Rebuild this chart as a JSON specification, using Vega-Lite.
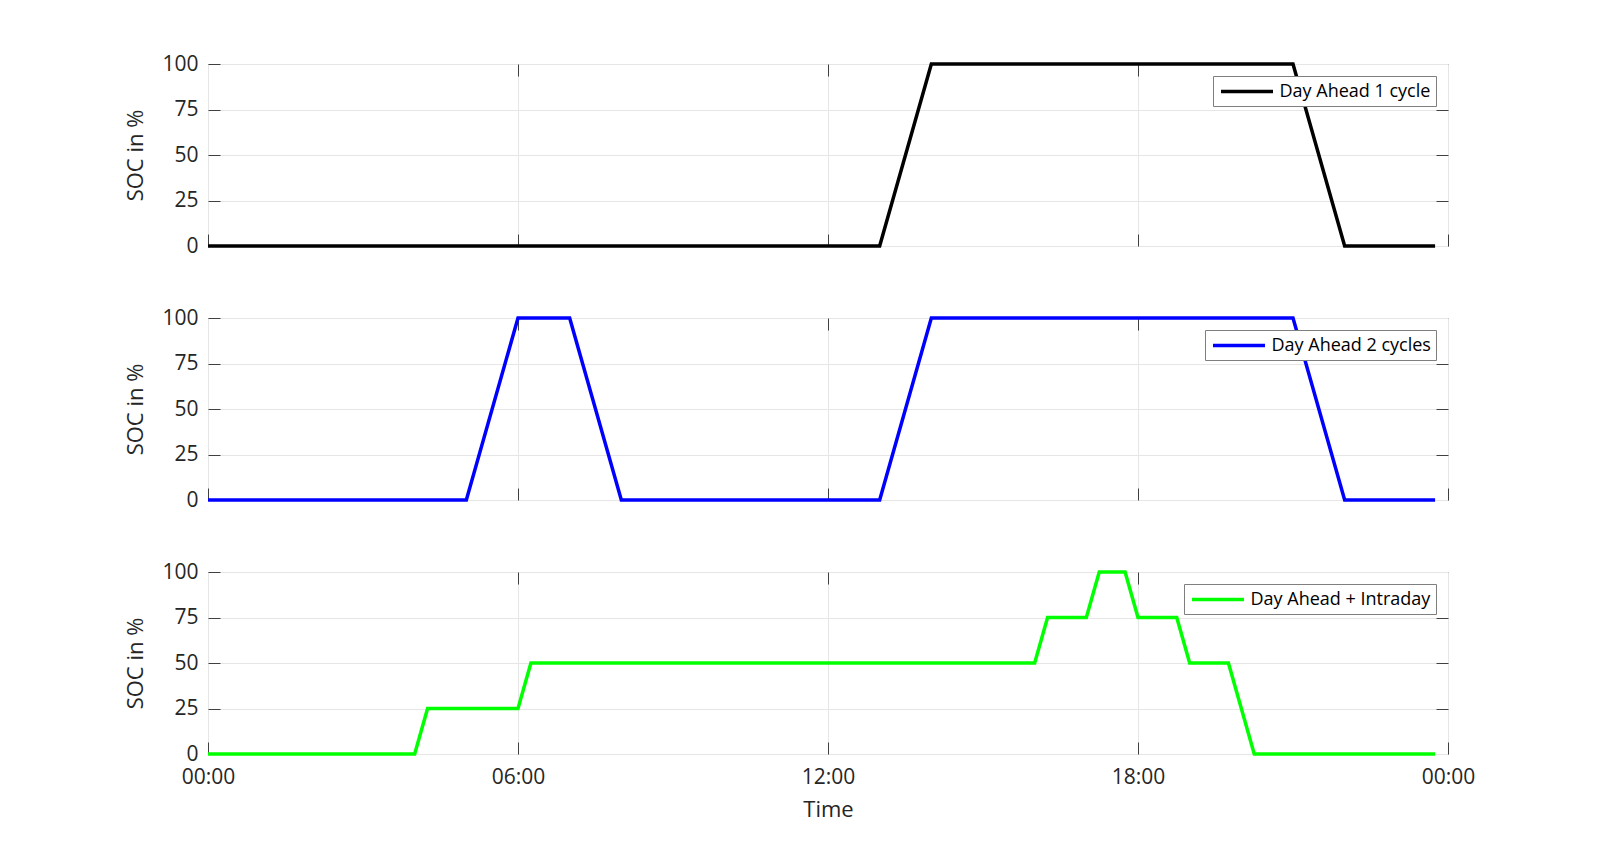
{
  "$schema": "https://vega.github.io/schema/vega-lite/v6.json",
  "background": "white",
  "padding": {"left": 124, "top": 52, "right": 150, "bottom": 20},
  "bounds": "flush",
  "spacing": 72,
  "config": {
    "font": "Open Sans",
    "view": {"stroke": "#404040", "strokeWidth": 1},
    "axis": {
      "domain": false,
      "tickColor": "#404040",
      "tickSize": -12,
      "tickWidth": 1,
      "gridColor": "#e6e6e6",
      "gridWidth": 1,
      "labelFont": "Open Sans",
      "labelFontSize": 21,
      "labelColor": "#262626",
      "labelPadding": 22,
      "titleFont": "Open Sans",
      "titleFontSize": 22,
      "titleFontWeight": "normal",
      "titleColor": "#262626",
      "titlePadding": 14
    },
    "legend": {
      "orient": "top-right",
      "offset": 12,
      "padding": 5,
      "fillColor": "white",
      "strokeColor": "#7f7f7f",
      "cornerRadius": 0,
      "labelFont": "Open Sans",
      "labelFontSize": 18,
      "labelColor": "#000000",
      "labelLimit": 400,
      "symbolType": "M-3.06,0H3.06",
      "symbolSize": 289,
      "symbolStrokeWidth": 3.5,
      "symbolOffset": 18.5,
      "labelOffset": 22,
      "title": null
    }
  },
  "datasets": {
    "da1": [
      {"time": "2024-01-01T00:00:00", "soc": 0, "series": "Day Ahead 1 cycle"},
      {"time": "2024-01-01T13:00:00", "soc": 0, "series": "Day Ahead 1 cycle"},
      {"time": "2024-01-01T14:00:00", "soc": 100, "series": "Day Ahead 1 cycle"},
      {"time": "2024-01-01T21:00:00", "soc": 100, "series": "Day Ahead 1 cycle"},
      {"time": "2024-01-01T22:00:00", "soc": 0, "series": "Day Ahead 1 cycle"},
      {"time": "2024-01-01T23:45:00", "soc": 0, "series": "Day Ahead 1 cycle"}
    ],
    "da2": [
      {"time": "2024-01-01T00:00:00", "soc": 0, "series": "Day Ahead 2 cycles"},
      {"time": "2024-01-01T05:00:00", "soc": 0, "series": "Day Ahead 2 cycles"},
      {"time": "2024-01-01T06:00:00", "soc": 100, "series": "Day Ahead 2 cycles"},
      {"time": "2024-01-01T07:00:00", "soc": 100, "series": "Day Ahead 2 cycles"},
      {"time": "2024-01-01T08:00:00", "soc": 0, "series": "Day Ahead 2 cycles"},
      {"time": "2024-01-01T13:00:00", "soc": 0, "series": "Day Ahead 2 cycles"},
      {"time": "2024-01-01T14:00:00", "soc": 100, "series": "Day Ahead 2 cycles"},
      {"time": "2024-01-01T21:00:00", "soc": 100, "series": "Day Ahead 2 cycles"},
      {"time": "2024-01-01T22:00:00", "soc": 0, "series": "Day Ahead 2 cycles"},
      {"time": "2024-01-01T23:45:00", "soc": 0, "series": "Day Ahead 2 cycles"}
    ],
    "daid": [
      {"time": "2024-01-01T00:00:00", "soc": 0, "series": "Day Ahead + Intraday"},
      {"time": "2024-01-01T04:00:00", "soc": 0, "series": "Day Ahead + Intraday"},
      {"time": "2024-01-01T04:15:00", "soc": 25, "series": "Day Ahead + Intraday"},
      {"time": "2024-01-01T06:00:00", "soc": 25, "series": "Day Ahead + Intraday"},
      {"time": "2024-01-01T06:15:00", "soc": 50, "series": "Day Ahead + Intraday"},
      {"time": "2024-01-01T16:00:00", "soc": 50, "series": "Day Ahead + Intraday"},
      {"time": "2024-01-01T16:15:00", "soc": 75, "series": "Day Ahead + Intraday"},
      {"time": "2024-01-01T17:00:00", "soc": 75, "series": "Day Ahead + Intraday"},
      {"time": "2024-01-01T17:15:00", "soc": 100, "series": "Day Ahead + Intraday"},
      {"time": "2024-01-01T17:45:00", "soc": 100, "series": "Day Ahead + Intraday"},
      {"time": "2024-01-01T18:00:00", "soc": 75, "series": "Day Ahead + Intraday"},
      {"time": "2024-01-01T18:45:00", "soc": 75, "series": "Day Ahead + Intraday"},
      {"time": "2024-01-01T19:00:00", "soc": 50, "series": "Day Ahead + Intraday"},
      {"time": "2024-01-01T19:45:00", "soc": 50, "series": "Day Ahead + Intraday"},
      {"time": "2024-01-01T20:15:00", "soc": 0, "series": "Day Ahead + Intraday"},
      {"time": "2024-01-01T23:45:00", "soc": 0, "series": "Day Ahead + Intraday"}
    ]
  },
  "resolve": {"scale": {"color": "independent"}},
  "vconcat": [
    {
      "width": 1240, "height": 182,
      "data": {"name": "da1"},
      "layer": [
        {
          "mark": {"type": "line", "strokeWidth": 3.5},
          "encoding": {
            "x": {"field": "time", "type": "temporal",
              "scale": {"domain": [{"year": 2024, "month": 1, "date": 1, "hours": 0}, {"year": 2024, "month": 1, "date": 2, "hours": 0}]},
              "axis": {"values": [{"year": 2024, "month": 1, "date": 1, "hours": 0}, {"year": 2024, "month": 1, "date": 1, "hours": 6}, {"year": 2024, "month": 1, "date": 1, "hours": 12}, {"year": 2024, "month": 1, "date": 1, "hours": 18}, {"year": 2024, "month": 1, "date": 2, "hours": 0}], "labels": false, "title": null}},
            "y": {"field": "soc", "type": "quantitative", "scale": {"domain": [0, 100], "nice": false},
              "axis": {"values": [0, 25, 50, 75, 100], "title": "SOC in %"}},
            "color": {"field": "series", "type": "nominal", "scale": {"range": ["#000000"]}}
          }
        },
        {
          "mark": {"type": "line", "strokeOpacity": 0},
          "encoding": {
            "x": {"field": "time", "type": "temporal",
              "axis": {"orient": "top", "values": [{"year": 2024, "month": 1, "date": 1, "hours": 6}, {"year": 2024, "month": 1, "date": 1, "hours": 12}, {"year": 2024, "month": 1, "date": 1, "hours": 18}], "labels": false, "grid": false, "title": null}},
            "y": {"field": "soc", "type": "quantitative",
              "axis": {"orient": "right", "values": [25, 50, 75], "labels": false, "grid": false, "title": null}}
          }
        }
      ],
      "resolve": {"axis": {"x": "independent", "y": "independent"}}
    },
    {
      "width": 1240, "height": 182,
      "data": {"name": "da2"},
      "layer": [
        {
          "mark": {"type": "line", "strokeWidth": 3.5},
          "encoding": {
            "x": {"field": "time", "type": "temporal",
              "scale": {"domain": [{"year": 2024, "month": 1, "date": 1, "hours": 0}, {"year": 2024, "month": 1, "date": 2, "hours": 0}]},
              "axis": {"values": [{"year": 2024, "month": 1, "date": 1, "hours": 0}, {"year": 2024, "month": 1, "date": 1, "hours": 6}, {"year": 2024, "month": 1, "date": 1, "hours": 12}, {"year": 2024, "month": 1, "date": 1, "hours": 18}, {"year": 2024, "month": 1, "date": 2, "hours": 0}], "labels": false, "title": null}},
            "y": {"field": "soc", "type": "quantitative", "scale": {"domain": [0, 100], "nice": false},
              "axis": {"values": [0, 25, 50, 75, 100], "title": "SOC in %"}},
            "color": {"field": "series", "type": "nominal", "scale": {"range": ["#0000ff"]}}
          }
        },
        {
          "mark": {"type": "line", "strokeOpacity": 0},
          "encoding": {
            "x": {"field": "time", "type": "temporal",
              "axis": {"orient": "top", "values": [{"year": 2024, "month": 1, "date": 1, "hours": 6}, {"year": 2024, "month": 1, "date": 1, "hours": 12}, {"year": 2024, "month": 1, "date": 1, "hours": 18}], "labels": false, "grid": false, "title": null}},
            "y": {"field": "soc", "type": "quantitative",
              "axis": {"orient": "right", "values": [25, 50, 75], "labels": false, "grid": false, "title": null}}
          }
        }
      ],
      "resolve": {"axis": {"x": "independent", "y": "independent"}}
    },
    {
      "width": 1240, "height": 182,
      "data": {"name": "daid"},
      "layer": [
        {
          "mark": {"type": "line", "strokeWidth": 3.5},
          "encoding": {
            "x": {"field": "time", "type": "temporal",
              "scale": {"domain": [{"year": 2024, "month": 1, "date": 1, "hours": 0}, {"year": 2024, "month": 1, "date": 2, "hours": 0}]},
              "axis": {"values": [{"year": 2024, "month": 1, "date": 1, "hours": 0}, {"year": 2024, "month": 1, "date": 1, "hours": 6}, {"year": 2024, "month": 1, "date": 1, "hours": 12}, {"year": 2024, "month": 1, "date": 1, "hours": 18}, {"year": 2024, "month": 1, "date": 2, "hours": 0}], "format": "%H:%M", "labelFlush": false, "labelPadding": 24, "title": "Time", "titlePadding": 12}},
            "y": {"field": "soc", "type": "quantitative", "scale": {"domain": [0, 100], "nice": false},
              "axis": {"values": [0, 25, 50, 75, 100], "title": "SOC in %"}},
            "color": {"field": "series", "type": "nominal", "scale": {"range": ["#00ff00"]}}
          }
        },
        {
          "mark": {"type": "line", "strokeOpacity": 0},
          "encoding": {
            "x": {"field": "time", "type": "temporal",
              "axis": {"orient": "top", "values": [{"year": 2024, "month": 1, "date": 1, "hours": 6}, {"year": 2024, "month": 1, "date": 1, "hours": 12}, {"year": 2024, "month": 1, "date": 1, "hours": 18}], "labels": false, "grid": false, "title": null}},
            "y": {"field": "soc", "type": "quantitative",
              "axis": {"orient": "right", "values": [25, 50, 75], "labels": false, "grid": false, "title": null}}
          }
        }
      ],
      "resolve": {"axis": {"x": "independent", "y": "independent"}}
    }
  ]
}
